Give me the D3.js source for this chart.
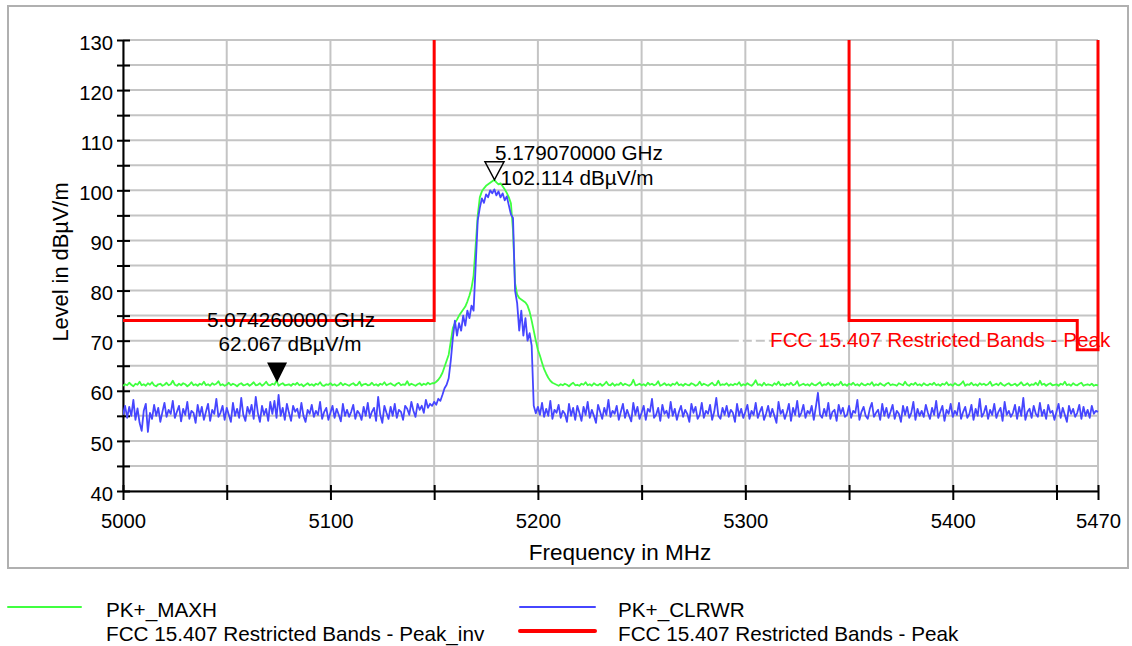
<!DOCTYPE html>
<html>
<head>
<meta charset="utf-8">
<script src="https://cdn.jsdelivr.net/npm/d3@7"></script>
<style>
  html, body { margin: 0; padding: 0; background: #fff; }
  svg { display: block; font-family: "Liberation Sans", Arial, sans-serif; }
</style>
</head>
<body>
<svg id="chart" width="1132" height="646"></svg>
<script>
// ---------------- DATA ----------------
const freqStartMHz = 5000;   // sweep start
const freqStepMHz = 1;       // sweep step

// PK+_MAXH trace (dBµV/m), one value per MHz from 5000 to 5470
const maxhLevels = [
  61.0,61.3,61.1,61.6,61.2,60.9,61.4,61.2,61.8,61.1,61.3,61.0,61.5,61.2,61.7,61.1,60.9,61.3,61.4,61.0,
  61.2,61.6,61.1,61.3,62.0,61.2,61.0,61.4,61.1,61.5,61.3,60.9,61.2,61.7,61.1,61.3,61.0,61.4,61.2,61.8,
  61.1,61.3,61.0,61.5,61.2,61.4,61.9,61.1,61.3,61.0,61.2,61.6,61.1,61.4,61.2,60.9,61.3,61.5,61.1,61.2,
  61.4,61.0,61.3,61.7,61.1,61.2,61.5,61.0,61.3,61.8,61.2,61.1,61.4,61.2,62.1,61.0,61.3,61.5,61.1,61.2,
  61.3,61.0,61.4,61.2,61.6,61.1,61.3,60.9,61.2,61.5,61.1,61.3,61.0,61.4,61.2,61.7,61.1,61.0,61.3,61.2,
  61.5,61.1,61.3,61.0,61.2,61.6,61.1,61.4,61.2,61.0,61.3,61.5,61.1,61.2,61.8,61.0,61.3,61.4,61.1,61.2,
  61.6,61.1,61.3,61.0,61.4,61.2,61.7,61.1,61.3,61.5,61.2,61.0,61.4,61.6,61.1,61.3,61.2,61.9,61.1,61.4,
  61.2,61.0,61.3,61.5,61.1,61.4,61.2,61.6,61.3,61.5,
  61.5,61.8,62.2,62.8,63.6,64.8,66.0,67.2,69.8,72.5,
  73.5,74.2,75.0,75.6,76.2,76.8,77.8,79.0,80.5,83.0,
  89.0,95.0,98.6,99.8,100.4,100.9,101.2,101.5,101.8,102.1,
  101.6,101.2,101.4,100.8,100.2,99.5,98.6,97.4,92.0,81.5,
  79.2,78.5,78.2,77.9,77.6,77.0,75.8,74.0,72.0,70.0,
  68.2,67.0,65.6,64.3,63.4,62.6,62.0,61.6,61.4,61.2,
  61.0,61.3,61.1,61.4,61.2,60.9,61.3,61.6,61.1,61.2,61.0,61.4,61.2,61.7,61.1,61.3,61.0,61.5,61.2,61.1,
  61.4,61.0,61.3,61.8,61.2,61.1,61.5,61.0,61.3,61.2,61.6,61.1,61.4,61.2,61.0,61.3,62.2,61.1,61.2,61.4,
  61.1,61.3,61.0,61.6,61.2,61.4,61.1,61.3,61.9,61.0,61.2,61.5,61.1,61.3,61.0,61.4,61.2,61.7,61.1,61.3,
  61.0,61.4,61.2,61.1,61.5,61.3,61.0,61.2,61.8,61.1,61.4,61.2,61.0,61.3,61.6,61.1,61.2,62.0,61.1,61.3,
  61.2,61.5,61.0,61.3,61.1,61.4,61.2,61.7,61.0,61.3,61.1,61.5,61.2,61.0,61.4,62.1,61.2,61.3,61.0,61.6,
  61.1,61.3,61.2,61.0,61.5,61.2,61.8,61.1,61.3,61.0,61.4,61.2,61.6,61.1,61.3,61.9,61.0,61.2,61.4,61.1,
  61.3,61.0,61.5,61.2,61.1,61.4,61.7,61.0,61.3,61.2,61.6,61.1,61.4,61.0,61.3,61.2,61.8,61.1,61.3,61.0,
  61.4,61.2,61.6,61.1,61.3,61.0,61.5,61.2,61.1,61.4,61.2,61.7,61.0,61.3,61.1,61.5,61.2,61.0,61.4,61.6,
  61.1,61.3,61.2,61.0,61.5,61.3,61.1,61.8,61.2,61.0,61.4,61.2,61.6,61.1,61.3,61.0,61.5,61.2,61.1,61.4,
  61.2,61.6,61.1,61.3,61.0,61.4,61.2,61.7,61.1,61.3,61.0,61.5,61.2,61.1,61.4,61.9,61.0,61.3,61.2,61.6,
  61.1,61.3,61.0,61.5,61.2,61.4,61.1,61.3,61.8,61.0,61.2,61.4,61.1,61.6,61.2,61.0,61.3,61.5,61.1,61.2,
  61.4,61.0,61.3,61.7,61.1,61.2,61.5,61.0,61.3,61.2,61.6,61.1,62.0,61.2,61.4,61.0,61.3,61.5,61.1,61.2,
  61.3,61.0,61.4,61.2,61.8,61.1,61.3,61.0,61.5,61.2,61.1,61.4,61.6,61.0,61.2,61.3,61.1,61.4,61.0,61.2,
  61.1
];

// PK+_CLRWR trace (dBµV/m), one value per MHz from 5000 to 5470
const clrwrLevels = [
  55.2,57.0,54.6,56.8,55.0,58.2,54.2,56.5,53.6,52.0,56.0,57.4,51.8,55.6,54.4,57.2,55.0,56.6,53.8,55.8,
  57.6,54.8,56.2,55.4,58.0,54.6,55.8,57.0,53.9,56.4,55.2,57.8,54.4,56.0,55.6,53.6,57.2,55.0,56.8,54.2,
  55.8,57.4,54.0,56.2,55.4,58.4,54.8,55.6,57.0,54.2,56.6,55.2,53.8,57.6,55.0,56.4,54.6,58.6,55.2,54.0,
  56.8,55.4,57.2,54.4,58.8,55.6,53.8,57.0,55.2,56.4,54.0,57.8,55.4,58.0,54.6,59.2,55.0,56.6,54.2,57.4,
  55.6,54.0,57.0,55.8,56.4,54.6,57.6,55.0,53.8,56.2,55.4,57.2,54.8,56.0,55.2,57.8,54.4,55.8,56.6,54.2,
  55.6,57.0,54.6,56.4,55.2,53.9,57.4,55.0,56.2,54.8,55.8,57.2,54.4,56.0,55.4,54.2,56.8,55.0,57.6,54.6,
  55.8,56.6,54.0,58.8,55.2,53.6,57.0,55.6,54.4,56.8,55.0,57.4,54.6,56.2,55.8,54.2,57.0,56.4,55.2,57.8,
  56.0,54.8,57.4,56.2,57.0,55.6,58.2,56.6,57.4,57.0,
  57.8,57.2,58.4,58.0,59.2,60.5,61.2,62.5,66.0,70.5,
  74.0,71.0,73.5,72.0,75.0,73.0,76.0,74.5,77.0,76.0,
  85.0,94.0,96.5,98.4,97.5,99.2,98.6,100.0,99.4,100.2,
  99.0,99.8,98.6,99.4,98.0,98.8,97.0,95.2,94.5,80.0,
  77.5,72.0,76.0,71.0,74.5,70.0,71.5,69.0,57.0,55.5,
  56.8,55.2,57.6,54.8,56.4,55.0,58.0,54.4,56.2,55.6,57.2,54.6,56.0,55.4,53.8,57.4,55.0,56.6,54.2,57.0,
  55.6,54.0,56.8,55.2,57.8,54.6,56.2,55.0,53.6,57.2,55.8,54.4,56.6,55.2,58.2,54.8,56.0,55.4,57.0,54.2,
  55.8,57.4,54.6,56.2,55.0,53.9,57.6,55.2,56.8,54.4,55.6,57.0,54.2,56.4,55.8,58.4,54.6,55.2,56.6,54.0,
  57.2,55.4,56.0,54.6,57.8,55.0,56.4,54.2,55.8,57.0,54.8,56.2,55.4,53.8,57.4,55.6,56.8,54.4,55.2,57.6,
  54.6,56.0,55.4,57.2,54.2,55.8,58.6,55.0,54.4,56.6,55.2,57.0,54.8,56.2,55.6,53.8,57.4,55.0,56.4,54.6,
  55.8,57.2,54.4,56.0,55.2,57.6,54.6,55.8,56.8,54.2,55.4,57.0,54.8,56.4,55.0,53.6,57.8,55.4,56.2,54.4,
  55.6,57.4,54.0,56.6,55.2,58.0,54.8,55.6,57.2,54.6,56.0,55.4,57.0,54.2,56.8,59.6,55.2,54.6,56.4,55.0,
  57.6,54.4,55.8,56.2,54.0,57.2,55.4,56.6,54.8,55.2,57.0,54.6,56.0,55.6,58.2,54.2,55.8,56.8,55.0,54.4,
  56.4,57.6,54.8,55.6,56.2,54.2,57.4,55.0,56.6,54.6,55.8,57.2,54.4,56.0,55.4,53.8,57.0,55.2,56.8,54.6,
  55.6,57.8,54.2,56.4,55.0,56.0,54.8,57.2,55.6,54.4,56.6,55.2,58.0,54.6,55.8,57.0,54.0,56.2,55.4,57.4,
  54.8,56.0,55.2,57.6,54.4,55.8,56.8,54.6,55.4,57.2,54.2,56.4,55.0,58.4,54.8,55.6,57.0,54.4,56.2,55.2,
  57.4,54.6,55.8,56.6,54.0,57.8,55.2,56.0,54.8,55.6,57.2,54.4,56.8,55.0,58.6,54.2,55.8,56.4,54.6,57.0,
  55.4,54.8,57.6,55.0,56.2,54.4,57.2,55.6,56.0,54.2,55.8,57.4,54.6,56.6,55.2,53.8,57.0,55.4,56.4,54.8,
  55.6,57.2,54.4,56.8,55.0,56.2,54.6,57.0,55.4,56.0,55.8
];

// FCC 15.407 Restricted Bands - Peak limit line (null = no limit / gap)
const limitFreqs  = [5000, 5150, 5150, 5250, 5350, 5350, 5460, 5460, 5470, 5470];
const limitLevels = [74,   74,   130,  null, 130,  74,   74,   68.2, 68.2, 130];

// FCC 15.407 Restricted Bands - Peak_inv (drawn in white, dashed)
const invFreqs  = [5293, 5470];
const invLevels = [70, 70];

// Markers
const markerFreqsMHz = [5074.26, 5179.07];
const markerLevels   = [62.067, 102.114];
const markerFreqLabels  = ["5.074260000 GHz", "5.179070000 GHz"];
const markerLevelLabels = ["62.067 dBµV/m", "102.114 dBµV/m"];

// Axes
const xTickValues  = [5000, 5050, 5100, 5150, 5200, 5250, 5300, 5350, 5400, 5450, 5470];
const xLabelValues = [5000, 5100, 5200, 5300, 5400, 5470];
const yTickValues  = [40, 45, 50, 55, 60, 65, 70, 75, 80, 85, 90, 95, 100, 105, 110, 115, 120, 125, 130];
const yLabelValues = [40, 50, 60, 70, 80, 90, 100, 110, 120, 130];

const xTitle = "Frequency in MHz";
const yTitle = "Level in dBµV/m";
const limitLabel = "FCC 15.407 Restricted Bands - Peak";
const legendNames = ["PK+_MAXH", "FCC 15.407 Restricted Bands - Peak_inv", "PK+_CLRWR", "FCC 15.407 Restricted Bands - Peak"];

// ---------------- DRAW ----------------
const svg = d3.select("#chart");
const x = d3.scaleLinear().domain([5000, 5470]).range([123, 1098]);
const y = d3.scaleLinear().domain([40, 130]).range([491, 40]);

const GREEN = "#40ff40", BLUE = "#4646ff", RED = "#ff0000", GRID = "#c4c4c4";

// outer frame
svg.append("rect").attr("x", 8).attr("y", 6).attr("width", 1120).attr("height", 562)
  .attr("fill", "#fff").attr("stroke", "#b0b0b0").attr("stroke-width", 2);

// grid
const grid = svg.append("g");
grid.selectAll("line.h").data(yTickValues).join("line")
  .attr("x1", x(5000)).attr("x2", x(5470))
  .attr("y1", d => y(d)).attr("y2", d => y(d))
  .attr("stroke", GRID).attr("stroke-width", 2);
grid.selectAll("line.v").data(xTickValues).join("line")
  .attr("x1", d => x(d)).attr("x2", d => x(d))
  .attr("y1", y(130)).attr("y2", y(40))
  .attr("stroke", GRID).attr("stroke-width", 2);

// Peak_inv line (white dashed)
const invData = invFreqs.map((f, i) => [f, invLevels[i]]);
svg.append("path").datum(invData)
  .attr("d", d3.line().x(d => x(d[0])).y(d => y(d[1])))
  .attr("fill", "none").attr("stroke", "#fff").attr("stroke-width", 3)
  .attr("stroke-dasharray", "4 9").attr("stroke-dashoffset", -8);

// axes
const xAxis = d3.axisBottom(x).tickValues(xTickValues).tickSizeInner(9).tickSizeOuter(0)
  .tickFormat(d => xLabelValues.includes(d) ? d : "");
const gx = svg.append("g").attr("transform", `translate(0,${y(40)})`).call(xAxis);
gx.select(".domain").attr("stroke", "#000").attr("stroke-width", 2);
gx.selectAll(".tick line").attr("y1", -6).attr("y2", 9).attr("stroke", "#000").attr("stroke-width", 2);
gx.selectAll(".tick text").attr("y", 37).attr("dy", null)
  .attr("font-size", 20.3).attr("fill", "#000").attr("font-family", "Liberation Sans, Arial, sans-serif");

const yAxis = d3.axisLeft(y).tickValues(yTickValues).tickSizeInner(6).tickSizeOuter(0)
  .tickFormat(d => yLabelValues.includes(d) ? d : "");
const gy = svg.append("g").attr("transform", `translate(${x(5000)},0)`).call(yAxis);
gy.select(".domain").attr("stroke", "#000").attr("stroke-width", 2);
gy.selectAll(".tick line").attr("x1", -6).attr("x2", 7).attr("stroke", "#000").attr("stroke-width", 2);
gy.selectAll(".tick text").attr("x", -10).attr("dy", "0.45em")
  .attr("font-size", 20.3).attr("fill", "#000").attr("font-family", "Liberation Sans, Arial, sans-serif");

// axis titles
svg.append("text").attr("x", 620).attr("y", 560).attr("text-anchor", "middle")
  .attr("font-size", 22.5).attr("fill", "#000").text(xTitle);
svg.append("text").attr("transform", "translate(68,262) rotate(-90)").attr("text-anchor", "middle")
  .attr("font-size", 21.8).attr("fill", "#000").text(yTitle);

// clip
svg.append("clipPath").attr("id", "plotclip").append("rect")
  .attr("x", x(5000)).attr("y", y(130) - 2).attr("width", x(5470) - x(5000) + 2).attr("height", y(40) - y(130) + 2);

const plot = svg.append("g").attr("clip-path", "url(#plotclip)");

// limit line
const limData = limitFreqs.map((f, i) => [f, limitLevels[i]]);
plot.append("path").datum(limData)
  .attr("d", d3.line().defined(d => d[1] !== null).x(d => x(d[0])).y(d => y(d[1])))
  .attr("fill", "none").attr("stroke", RED).attr("stroke-width", 3).attr("stroke-linejoin", "miter");

// traces
const traceLine = d3.line().x((d, i) => x(freqStartMHz + i * freqStepMHz)).y(d => y(d));
plot.append("path").datum(maxhLevels).attr("d", traceLine)
  .attr("fill", "none").attr("stroke", GREEN).attr("stroke-width", 1.8).attr("stroke-linejoin", "round");
plot.append("path").datum(clrwrLevels).attr("d", traceLine)
  .attr("fill", "none").attr("stroke", BLUE).attr("stroke-width", 1.8).attr("stroke-linejoin", "round");

// limit label
svg.append("text").attr("x", 770).attr("y", 347).attr("font-size", 20.7).attr("fill", RED).text(limitLabel);

// Marker 1 (filled)
{
  const mx = x(markerFreqsMHz[0]), my = y(markerLevels[0]) + 2;
  svg.append("path").attr("d", `M${mx - 10},${my - 20} L${mx + 10},${my - 20} L${mx},${my} Z`).attr("fill", "#000");
  svg.append("text").attr("x", mx + 14).attr("y", 327).attr("text-anchor", "middle")
    .attr("font-size", 20.7).attr("fill", "#000").text(markerFreqLabels[0]);
  svg.append("text").attr("x", mx + 13).attr("y", 351).attr("text-anchor", "middle")
    .attr("font-size", 20.7).attr("fill", "#000").text(markerLevelLabels[0]);
}
// Marker 2 (open)
{
  const mx = x(markerFreqsMHz[1]), my = y(markerLevels[1]);
  svg.append("path").attr("d", `M${mx - 9.5},${my - 18} L${mx + 9.5},${my - 18} L${mx},${my} Z`)
    .attr("fill", "none").attr("stroke", "#000").attr("stroke-width", 1.5);
  svg.append("text").attr("x", mx + 0.5).attr("y", 160)
    .attr("font-size", 20.7).attr("fill", "#000").text(markerFreqLabels[1]);
  svg.append("text").attr("x", mx + 6).attr("y", 185)
    .attr("font-size", 20.7).attr("fill", "#000").text(markerLevelLabels[1]);
}

// legend
const legend = svg.append("g");
const legendItems = [
  { name: legendNames[0], color: GREEN, w: 2, x1: 8, x2: 81, ly: 607, tx: 106, ty: 617 },
  { name: legendNames[1], color: "#fff", w: 2, x1: 8, x2: 81, ly: 631, tx: 106, ty: 641 },
  { name: legendNames[2], color: BLUE, w: 2, x1: 520, x2: 595, ly: 607, tx: 618, ty: 617 },
  { name: legendNames[3], color: RED, w: 4, x1: 520, x2: 595, ly: 631, tx: 618, ty: 641 }
];
legendItems.forEach(it => {
  legend.append("line").attr("x1", it.x1).attr("x2", it.x2).attr("y1", it.ly).attr("y2", it.ly)
    .attr("stroke", it.color).attr("stroke-width", it.w).attr("stroke-linecap", "round");
  legend.append("text").attr("x", it.tx).attr("y", it.ty).attr("font-size", 20.7).attr("fill", "#000").text(it.name);
});
</script>
</body>
</html>
